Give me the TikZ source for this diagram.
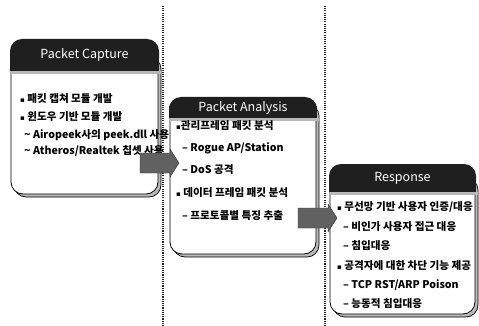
\documentclass[tikz,border=0pt]{standalone}
\usepackage{fontspec}
\setmainfont{Noto Sans CJK KR}
\newfontfamily\symfont{DejaVu Sans}
\tikzset{
  divider/.style={line width=1.1pt, dash pattern=on 1.1pt off 1.1pt, black!85},
  panelshadow/.style={fill=gray!55, draw=black, line width=0.7pt, rounded corners=12pt},
  panelbody/.style={fill=white, draw=black, line width=0.8pt, rounded corners=12pt},
  panelhead/.style={fill=black!88},
  headstripe/.style={fill=gray!55},
  headtext/.style={text=white, font=\fontsize{12.5}{14}\selectfont, inner sep=0pt},
  item/.style={anchor=west, inner sep=0pt, font=\fontsize{10.6}{12}\selectfont\bfseries},
  blockarrow/.style={fill=black!62, draw=black!80, line width=0.4pt},
}
% #1 x-left, #2 y-top, #3 x-right, #4 y of header bottom, #5 y-bottom, #6 node name, #7 title
\newcommand\panel[7]{%
  \path[panelshadow] (#1+3,#4-14) rectangle (#3+3,#5+3);
  \path[panelbody] (#1,#4-14) rectangle (#3,#5);
  \fill[panelhead, rounded corners=12pt] (#1-1,#2) rectangle (#3+1,#4);
  \fill[panelhead] (#1-1,#4-12) rectangle (#3+1,#4);
  \fill[headstripe] (#1,#4) rectangle (#3+3,#4+3);
  \node[headtext] (#6) at ({(#1+#3)/2},{(#2+#4)/2}) {#7};
}
\newcommand\bul{{\symfont\fontsize{7}{8}\selectfont ▪}}
\begin{document}
\begin{tikzpicture}[x=1pt,y=-1pt]
\useasboundingbox (0,0) rectangle (479,326);
\fill[white] (0,0) rectangle (479,326);

% column dividers
\coordinate (d1t) at (163,6);  \coordinate (d1b) at (163,326);
\coordinate (d2t) at (325,6);  \coordinate (d2b) at (325,326);
\draw[divider] (d1t) -- (d1b);
\draw[divider] (d2t) -- (d2b);

% three stage panels
\panel{11}{39}{158}{71}{194}{capture}{Packet Capture}
\panel{170}{97}{316}{118}{254}{analysis}{Packet Analysis}
\panel{330}{164}{475}{192}{314}{response}{Response}

% Packet Capture items
\node[item] (c1) at (20,99)  {\bul\ 패킷 캡쳐 모듈 개발};
\node[item] (c2) at (20,117) {\bul\ 윈도우 기반 모듈 개발};
\node[item] (c3) at (24,135) {\textasciitilde\ Airopeek사의 peek.dll 사용};
\node[item] (c4) at (24,151) {\textasciitilde\ Atheros/Realtek 칩셋 사용};

% Packet Analysis items
\node[item] (a1) at (176,126) {\bul 관리프레임 패킷 분석};
\node[item] (a2) at (182,148) {– Rogue AP/Station};
\node[item] (a3) at (182,170) {– DoS 공격};
\node[item] (a4) at (176,193) {\bul\ 데이터 프레임 패킷 분석};
\node[item] (a5) at (182,216) {– 프로토콜별 특징 추출};

% Response items
\node[item] (r1) at (337,207) {\bul\ 무선망 기반 사용자 인증/대응};
\node[item] (r2) at (343,227) {– 비인가 사용자 접근 대응};
\node[item] (r3) at (343,246) {– 침입대응};
\node[item] (r4) at (337,266) {\bul\ 공격자에 대한 차단 기능 제공};
\node[item] (r5) at (343,285) {– TCP RST/ARP Poison};
\node[item] (r6) at (343,304) {– 능동적 침입대응};

% block arrows between stages
\path[blockarrow] (140,153) -- (170,153) -- (170,149) -- (179,163) -- (170,177) -- (170,173) -- (140,173) -- cycle;
\path[blockarrow] (298,208) -- (328,208) -- (328,204) -- (337,218) -- (328,232) -- (328,228) -- (298,228) -- cycle;
\end{tikzpicture}
\end{document}
